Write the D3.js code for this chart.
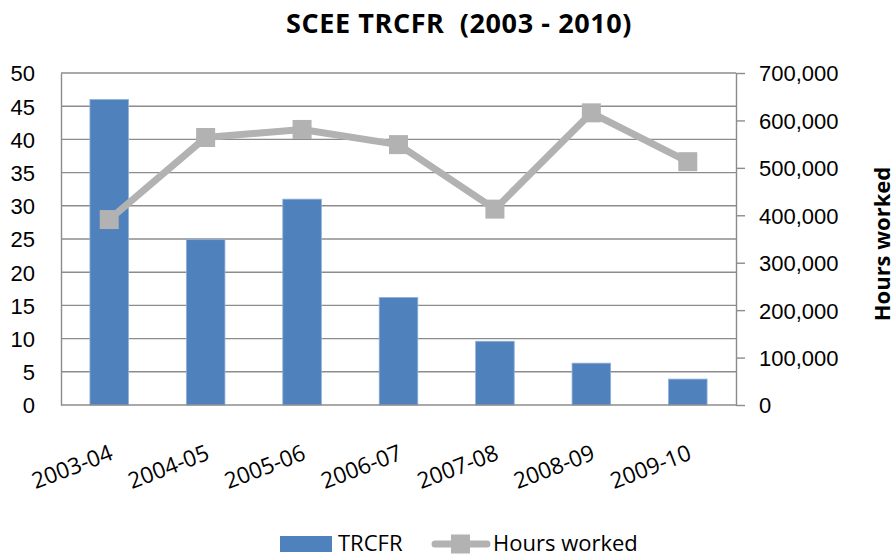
<!DOCTYPE html>
<html>
<head>
<meta charset="utf-8">
<script src="https://cdn.jsdelivr.net/npm/d3@7"></script>
<style>
    body { margin: 0; background: #fff; }
    svg { font-family: "Open Sans", sans-serif; }
    .grid line { stroke: #8c8c8c; stroke-width: 1.4; }
    .axis path, .axis line { stroke: #8c8c8c; stroke-width: 1.4; }
    .axis text { font-size: 22px; fill: #000; }
</style>
</head>
<body>
<svg width="895" height="557"></svg>
<script>
    // chart values
    var categories = ["2003-04", "2004-05", "2005-06", "2006-07", "2007-08", "2008-09", "2009-10"];
    var trcfr = [46, 24.9, 31, 16.2, 9.6, 6.3, 3.9];
    var hours = [391000, 564000, 581000, 549000, 413000, 616000, 513000];
    var leftTicks = [0, 5, 10, 15, 20, 25, 30, 35, 40, 45, 50];
    var rightTicks = [0, 100000, 200000, 300000, 400000, 500000, 600000, 700000];

    var svg = d3.select("svg");
    // plot box (window.top is reserved, so own names)
    var plotL = 61, plotR = 736, plotT = 73, plotB = 405;

    var x = d3.scaleBand()
        .domain(categories)
        .range([plotL, plotR])
        .paddingInner(0.6)
        .paddingOuter(0.3);

    var y = d3.scaleLinear().domain([0, 50]).range([plotB, plotT]);
    var y2 = d3.scaleLinear().domain([0, 700000]).range([plotB, plotT]);

    // horizontal gridlines
    svg.append("g")
        .attr("class", "grid")
        .selectAll("line")
        .data(leftTicks.slice(1))
        .enter().append("line")
        .attr("x1", plotL)
        .attr("x2", plotR)
        .attr("y1", d => y(d))
        .attr("y2", d => y(d));

    // bars
    svg.selectAll(".bar")
        .data(trcfr)
        .enter().append("rect")
        .attr("class", "bar")
        .attr("x", (d, i) => x(categories[i]))
        .attr("width", x.bandwidth())
        .attr("y", d => y(d))
        .attr("height", d => plotB - y(d))
        .style("fill", "#4f81bd")
        .style("stroke", "#8fb0d9")
        .style("stroke-width", 0.8);

    // left axis
    var gl = svg.append("g")
        .attr("class", "axis")
        .attr("transform", "translate(" + plotL + ",0)")
        .call(d3.axisLeft(y).tickValues(leftTicks).tickSize(0).tickPadding(26));
    gl.selectAll("text").attr("dy", "0.36em");

    // right axis
    var gr = svg.append("g")
        .attr("class", "axis")
        .attr("transform", "translate(" + plotR + ",0)")
        .call(d3.axisRight(y2).tickValues(rightTicks).tickFormat(d3.format(","))
            .tickSize(9).tickSizeOuter(0).tickPadding(14));
    gr.selectAll("text").attr("dy", "0.36em");

    // bottom axis line
    svg.append("line")
        .attr("x1", plotL).attr("x2", plotR)
        .attr("y1", plotB).attr("y2", plotB)
        .style("stroke", "#8c8c8c").style("stroke-width", 1.4);

    // category labels
    svg.selectAll(".xlab")
        .data(categories)
        .enter().append("text")
        .attr("class", "xlab")
        .attr("transform", d => "translate(" + (x(d) + x.bandwidth() / 2 + 5) + ",459) rotate(-21)")
        .attr("text-anchor", "end")
        .style("font-size", "22.5px")
        .text(d => d);

    // hours line
    var line = d3.line()
        .x((d, i) => x(categories[i]) + x.bandwidth() / 2)
        .y(d => y2(d));

    svg.append("path")
        .datum(hours)
        .attr("d", line)
        .style("fill", "none")
        .style("stroke", "#b2b2b2")
        .style("stroke-width", 7)
        .style("stroke-linejoin", "round");

    svg.selectAll(".marker")
        .data(hours)
        .enter().append("rect")
        .attr("class", "marker")
        .attr("x", (d, i) => x(categories[i]) + x.bandwidth() / 2 - 9.5)
        .attr("y", d => y2(d) - 9.5)
        .attr("width", 19)
        .attr("height", 19)
        .style("fill", "#b2b2b2");

    // title
    svg.append("text")
        .attr("x", 459)
        .attr("y", 33)
        .attr("text-anchor", "middle")
        .style("font-size", "27px")
        .style("font-weight", "bold")
        .style("letter-spacing", "0.6px")
        .style("white-space", "pre")
        .text("SCEE TRCFR  (2003 - 2010)");

    // right axis title
    svg.append("text")
        .attr("transform", "translate(890," + ((plotT + plotB) / 2 + 5) + ") rotate(-90)")
        .attr("text-anchor", "middle")
        .style("font-size", "22px")
        .style("font-weight", "bold")
        .text("Hours worked");

    // legend
    var lg = svg.append("g");
    lg.append("rect")
        .attr("x", 280).attr("y", 536)
        .attr("width", 52).attr("height", 16)
        .style("fill", "#4f81bd");
    lg.append("text")
        .attr("x", 338).attr("y", 551)
        .style("font-size", "22px")
        .text("TRCFR");
    lg.append("line")
        .attr("x1", 435).attr("x2", 487)
        .attr("y1", 544).attr("y2", 544)
        .style("stroke", "#b2b2b2").style("stroke-width", 7)
        .style("stroke-linecap", "round");
    lg.append("rect")
        .attr("x", 451).attr("y", 534.5)
        .attr("width", 19).attr("height", 19)
        .style("fill", "#b2b2b2");
    lg.append("text")
        .attr("x", 493).attr("y", 551)
        .style("font-size", "22px")
        .text("Hours worked");
</script>
</body>
</html>
